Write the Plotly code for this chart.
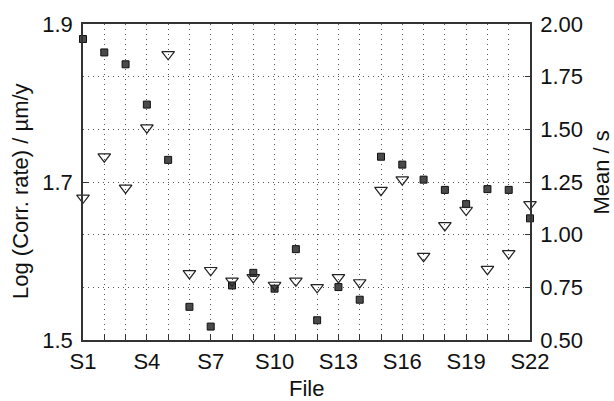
import plotly.graph_objects as go

files = ["S1", "S2", "S3", "S4", "S5", "S6", "S7", "S8", "S9", "S10", "S11",
         "S12", "S13", "S14", "S15", "S16", "S17", "S18", "S19", "S20", "S21", "S22"]
labelled = ["S1", "S4", "S7", "S10", "S13", "S16", "S19", "S22"]
log_corr = [1.881, 1.864, 1.849, 1.798, 1.728, 1.542, 1.517, 1.569, 1.585, 1.565, 1.615,
            1.525, 1.567, 1.551, 1.732, 1.722, 1.703, 1.690, 1.672, 1.691, 1.690, 1.654]
mean_s = [1.175, 1.370, 1.222, 1.508, 1.856, 0.816, 0.831, 0.781, 0.797, 0.761, 0.781,
          0.750, 0.797, 0.773, 1.211, 1.261, 0.898, 1.044, 1.117, 0.836, 0.911, 1.144]
left_ticks = [1.5, 1.7, 1.9]

FONT = "Liberation Sans, Arial, sans-serif"
AX = "#333333"
GRID = "#555555"

fig = go.Figure()
fig.add_trace(go.Scatter(
    x=files, y=mean_s, mode="markers", yaxis="y2", cliponaxis=False,
    marker=dict(symbol="triangle-down-open", size=11, color="#222222",
                line=dict(color="#222222", width=1.2)),
    showlegend=False))
fig.add_trace(go.Scatter(
    x=files, y=log_corr, mode="markers", yaxis="y", cliponaxis=False,
    marker=dict(symbol="square", size=7, color="#4a4a4a",
                line=dict(color="#111111", width=1)),
    showlegend=False))

fig.update_layout(
    width=614, height=401,
    margin=dict(l=83, r=84, t=20, b=61),
    paper_bgcolor="white", plot_bgcolor="white",
    font=dict(family=FONT, size=22, color="#111111"),
    xaxis=dict(
        type="category", categoryorder="array", categoryarray=files,
        range=[0, 21], tickmode="array", tickvals=files,
        ticktext=[f if f in labelled else "" for f in files],
        ticks="inside", ticklen=6, tickwidth=1, tickcolor=AX,
        showline=True, linecolor=AX, linewidth=1.5, mirror=True,
        showgrid=True, gridcolor=GRID, gridwidth=1, griddash="1px,4px",
        zeroline=False, ticklabelstandoff=1,
    ),
    yaxis=dict(
        range=[1.5, 1.9], tickmode="array", tickvals=left_ticks,
        ticktext=[f"{v:.1f}" for v in left_ticks],
        ticks="inside", ticklen=6, tickwidth=1, tickcolor=AX,
        showline=True, linecolor=AX, linewidth=1.5, mirror=True,
        showgrid=False, zeroline=False, ticklabelstandoff=4,
    ),
    yaxis2=dict(
        range=[0.5, 2.0], dtick=0.25, tick0=0.5, tickformat=".2f",
        overlaying="y", side="right",
        ticks="inside", ticklen=5, tickwidth=1, tickcolor=AX,
        showline=True, linecolor=AX, linewidth=1.5,
        showgrid=True, gridcolor=GRID, gridwidth=1, griddash="1px,4px",
        zeroline=False, ticklabelstandoff=4,
    ),
    annotations=[
        dict(text="File", xref="paper", yref="paper", x=0.5, y=0,
             yshift=-48, xanchor="center", yanchor="middle", showarrow=False,
             font=dict(size=22)),
        dict(text="Log (Corr. rate) / µm/y", xref="paper", yref="paper",
             x=0, y=0.5, xshift=-63, yshift=-9, xanchor="center", yanchor="middle",
             textangle=-90, showarrow=False, font=dict(size=22)),
        dict(text="Mean / s", xref="paper", yref="paper",
             x=1, y=0.53, xshift=72, xanchor="center", yanchor="middle",
             textangle=-90, showarrow=False, font=dict(size=22)),
    ],
)

fig.write_html("out.html")
